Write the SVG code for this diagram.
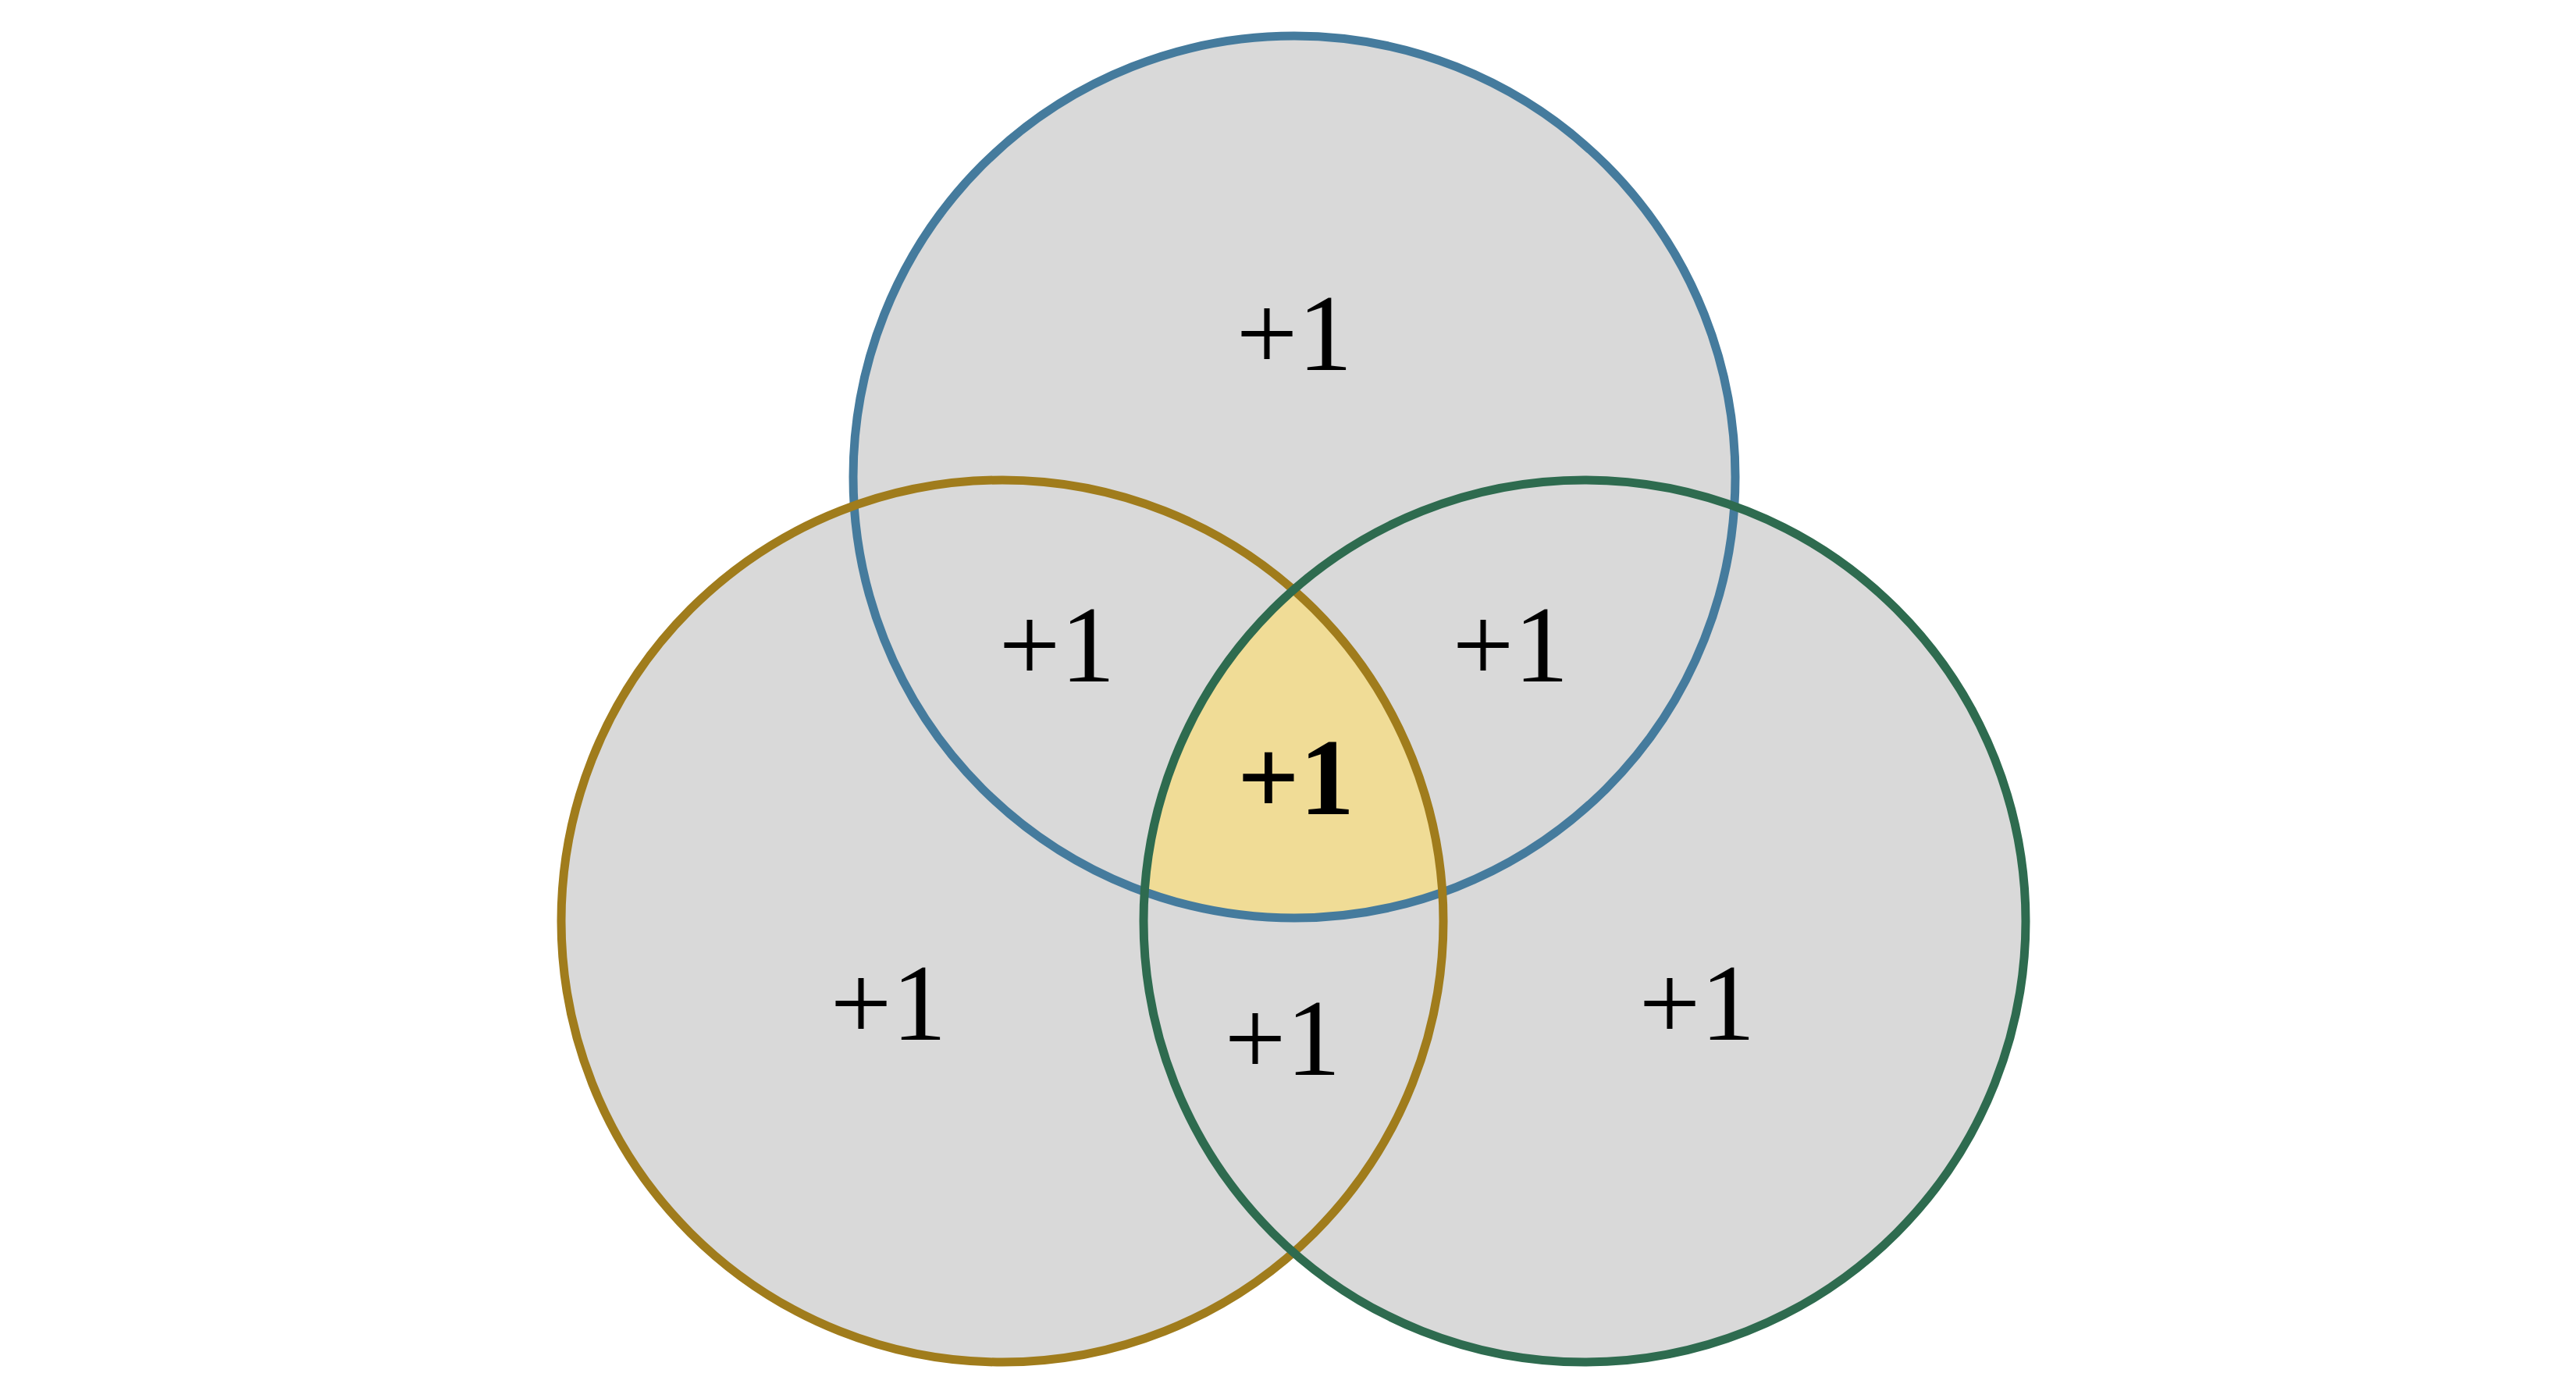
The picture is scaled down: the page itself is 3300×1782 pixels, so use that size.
<svg xmlns="http://www.w3.org/2000/svg" width="3300" height="1782" viewBox="0 0 3300 1782">
<style>
.f{fill:#d9d9d9;stroke:none}
.s{fill:none;stroke-width:11}
.t{font-family:"Liberation Serif","DejaVu Serif",serif;font-size:140px;text-anchor:middle;fill:#000}
</style>
<defs>
<clipPath id="cT"><circle cx="1658" cy="611" r="565"/></clipPath>
<clipPath id="cL"><circle cx="1284" cy="1180" r="565"/></clipPath>
</defs>
<rect width="3300" height="1782" fill="#fff"/>
<g id="fills">
<circle class="f" cx="1658" cy="611" r="565"/>
<circle class="f" cx="1284" cy="1180" r="565"/>
<circle class="f" cx="2030" cy="1180" r="565"/>
<g clip-path="url(#cT)"><g clip-path="url(#cL)"><circle cx="2030" cy="1180" r="565" fill="#f0dc96"/></g></g>
</g>
<g id="setA"><circle class="s" cx="1658" cy="611" r="565" stroke="#457b9d"/></g>
<g id="setB"><circle class="s" cx="1284" cy="1180" r="565" stroke="#a07c1c"/></g>
<g id="setC"><circle class="s" cx="2030" cy="1180" r="565" stroke="#2e6b4f"/></g>
<g id="labels">
<text class="t" x="1658" y="474">+1</text>
<text class="t" x="1354" y="873">+1</text>
<text class="t" x="1935" y="873">+1</text>
<text class="t" x="1660" y="1043" font-weight="bold" font-size="155">+1</text>
<text class="t" x="1138" y="1332">+1</text>
<text class="t" x="1643" y="1377">+1</text>
<text class="t" x="2174" y="1332">+1</text>
</g>
</svg>
